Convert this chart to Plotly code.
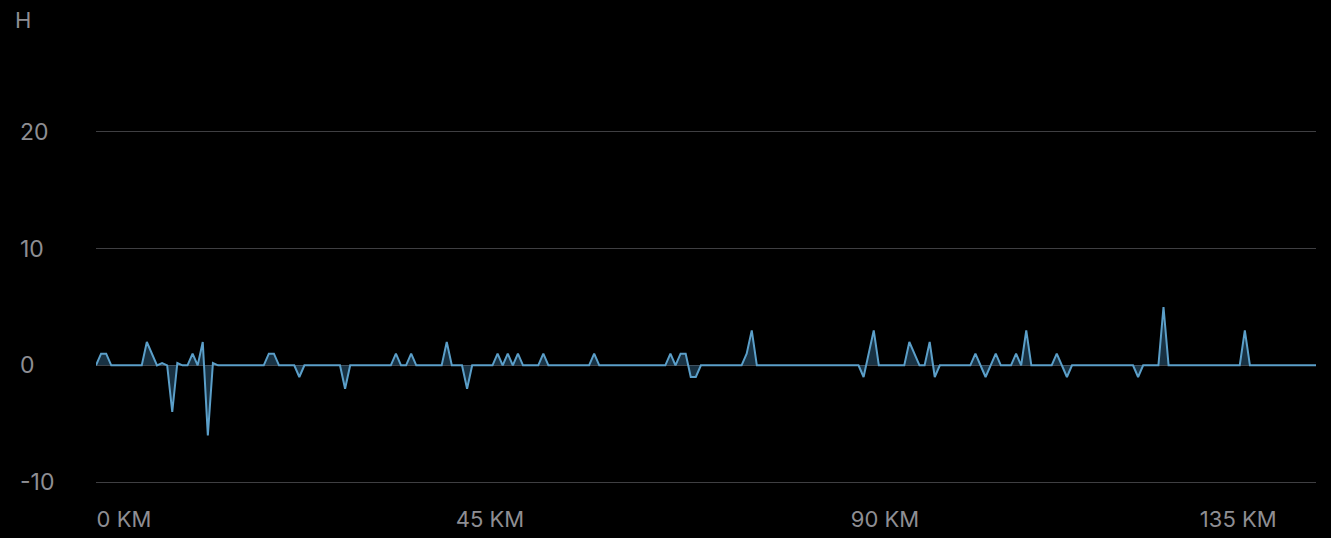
import plotly.graph_objects as go

# sample index along the route (uniform spacing)
values = [
    0, 1, 1, 0, 0, 0, 0, 0, 0, 0, 2, 1, 0, 0.2, 0, -4, 0.2, 0, 0, 1,
    0, 2, -6, 0.2, 0, 0, 0, 0, 0, 0, 0, 0, 0, 0, 1, 1, 0, 0, 0, 0,
    -1, 0, 0, 0, 0, 0, 0, 0, 0, -2, 0, 0, 0, 0, 0, 0, 0, 0, 0, 1,
    0, 0, 1, 0, 0, 0, 0, 0, 0, 2, 0, 0, 0, -2, 0, 0, 0, 0, 0, 1,
    0, 1, 0, 1, 0, 0, 0, 0, 1, 0, 0, 0, 0, 0, 0, 0, 0, 0, 1, 0,
    0, 0, 0, 0, 0, 0, 0, 0, 0, 0, 0, 0, 0, 1, 0, 1, 1, -1, -1, 0,
    0, 0, 0, 0, 0, 0, 0, 0, 1, 3, 0, 0, 0, 0, 0, 0, 0, 0, 0, 0,
    0, 0, 0, 0, 0, 0, 0, 0, 0, 0, 0, -1, 1, 3, 0, 0, 0, 0, 0, 0,
    2, 1, 0, 0, 2, -1, 0, 0, 0, 0, 0, 0, 0, 1, 0, -1, 0, 1, 0, 0,
    0, 1, 0, 3, 0, 0, 0, 0, 0, 1, 0, -1, 0, 0, 0, 0, 0, 0, 0, 0,
    0, 0, 0, 0, 0, -1, 0, 0, 0, 0, 5, 0, 0, 0, 0, 0, 0, 0, 0, 0,
    0, 0, 0, 0, 0, 0, 3, 0, 0, 0, 0, 0, 0, 0, 0, 0, 0, 0, 0, 0,
    0,
]
samples = list(range(len(values)))

x_tick_pos = [5.5, 77.5, 155.2, 224.7]
x_tick_text = ["0 KM", "45 KM", "90 KM", "135 KM"]
y_ticks = [-10, 0, 10, 20]
y_title = "H"

FONT = "Inter, Roboto, sans-serif"
TXT = "#8e8e93"
GRID = "#3f3f42"

fig = go.Figure()
fig.add_trace(go.Scatter(
    x=samples, y=values, mode="lines",
    line=dict(color="#5b9fc9", width=2),
    fill="tozeroy", fillcolor="rgba(70,140,190,0.35)",
    hoverinfo="skip", showlegend=False,
))

annotations = [dict(
    text=y_title, xref="paper", yref="paper",
    x=(13 - 96) / 1220, y=(484 - 20) / 354,
    xanchor="left", yanchor="middle", showarrow=False,
    font=dict(family=FONT, size=22, color=TXT),
)]
for t in y_ticks:
    annotations.append(dict(
        text=str(t), xref="paper", yref="y",
        x=(18 - 96) / 1220, y=t,
        xanchor="left", yanchor="middle", showarrow=False,
        font=dict(family=FONT, size=23, color=TXT),
    ))

fig.update_layout(
    width=1331, height=538,
    margin=dict(l=96, r=15, t=130, b=54),
    paper_bgcolor="#000000", plot_bgcolor="#000000",
    annotations=annotations,
    xaxis=dict(
        range=[0, len(values) - 1], showgrid=False, zeroline=False,
        tickmode="array", tickvals=x_tick_pos, ticktext=x_tick_text,
        tickfont=dict(family=FONT, size=22, color=TXT),
        ticks="", showline=False, fixedrange=True,
        ticklabelstandoff=20, automargin=False,
    ),
    yaxis=dict(
        range=[-10.17, 20.17], tickmode="array", tickvals=y_ticks,
        showticklabels=False, showgrid=True, gridcolor=GRID, gridwidth=1,
        zeroline=False, ticks="", showline=False, fixedrange=True,
        automargin=False,
    ),
)

fig.write_html(
    "out.html",
    config={"displayModeBar": False},
    post_script="document.body.style.margin='0';document.body.style.background='#000';",
)
